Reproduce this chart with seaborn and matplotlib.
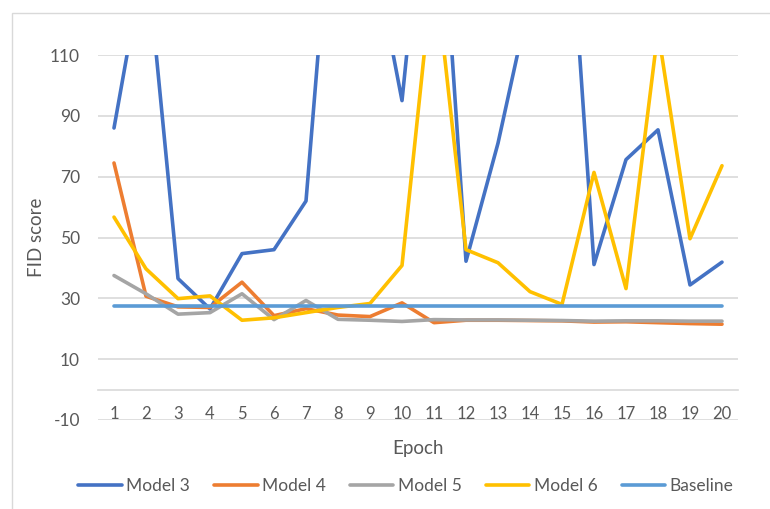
import matplotlib
matplotlib.use("Agg")
import matplotlib.pyplot as plt
from matplotlib.patches import Rectangle
import seaborn as sns
import pandas as pd

# FID score per training epoch
epochs = list(range(1, 21))
model3 = [86, 145, 36.5, 26.5, 44.7, 46, 62, 190, 150, 95,
          198, 42.2, 81, 129, 195, 41.1, 75.6, 85.4, 34.4, 41.9]
model4 = [74.5, 30.7, 27.2, 27.0, 35.3, 24.3, 26.6, 24.5, 24.0, 28.5,
          22.0, 22.8, 22.8, 22.7, 22.6, 22.2, 22.3, 22.0, 21.7, 21.5]
model5 = [37.5, 31.5, 24.8, 25.3, 31.5, 23.0, 29.3, 23.1, 22.8, 22.4,
          23.0, 22.9, 22.9, 22.8, 22.7, 22.5, 22.6, 22.6, 22.5, 22.5]
model6 = [56.7, 39.7, 29.9, 30.8, 22.8, 23.6, 25.3, 27.0, 28.3, 40.8,
          141, 46.0, 41.7, 32.2, 28.0, 71.4, 33.2, 118, 49.6, 73.6]
baseline = [27.5, 27.5, 27.5, 27.5, 27.5, 27.5, 27.5, 27.5, 27.5, 27.5,
            27.5, 27.5, 27.5, 27.5, 27.5, 27.5, 27.5, 27.5, 27.5, 27.5]

series_names = ["Model 3", "Model 4", "Model 5", "Model 6", "Baseline"]
series_values = [model3, model4, model5, model6, baseline]
colors = ["#4472C4", "#ED7D31", "#A5A5A5", "#FFC000", "#5B9BD5"]
yticks = [-10, 10, 30, 50, 70, 90, 110]

rows = []
for name, vals in zip(series_names, series_values):
    for e, v in zip(epochs, vals):
        rows.append({"Epoch": e, "FID score": v, "Series": name})
df = pd.DataFrame(rows)

sns.set_theme(style="white")
plt.rcParams["font.family"] = ["Lato", "DejaVu Sans"]
plt.rcParams["axes.unicode_minus"] = False
text_color = "#595959"
grid_color = "#D9D9D9"

fig = plt.figure(figsize=(7.7, 5.09), dpi=100)
ax = fig.add_axes([98 / 770, 1 - 420 / 509, 640 / 770, 365 / 509])

# light chart-area border
fig.patches.append(Rectangle((12 / 770, -0.1), 1.2, 1 - 13 / 509 + 0.1,
                             transform=fig.transFigure, fill=False,
                             edgecolor=grid_color, linewidth=1.0, zorder=0))

sns.lineplot(data=df, x="Epoch", y="FID score", hue="Series",
             hue_order=series_names, palette=colors, linewidth=2.6,
             ax=ax, legend=True, zorder=3)

ax.set_xlim(0.5, 20.5)
ax.set_ylim(-10, 110)
ax.set_yticks(yticks)
ax.set_xticks(epochs)
ax.set_xticklabels([str(e) for e in epochs])
for y in yticks:
    ax.axhline(y, color=grid_color, linewidth=1.2, zorder=1)

for side in ["left", "right", "top"]:
    ax.spines[side].set_visible(False)
ax.spines["bottom"].set_position(("data", 0))
ax.spines["bottom"].set_color(grid_color)
ax.spines["bottom"].set_linewidth(1.2)

ax.tick_params(axis="x", length=0, pad=12, labelsize=12, colors=text_color)
ax.tick_params(axis="y", length=0, pad=13, labelsize=12.5, colors=text_color)

ax.set_xlabel("Epoch", fontsize=13.5, color=text_color)
ax.xaxis.set_label_coords(0.5, -0.055)
ax.set_ylabel("FID score", fontsize=13.5, color=text_color)
ax.yaxis.set_label_coords(-0.083, 0.5)

handles, labels = ax.get_legend_handles_labels()
leg = fig.legend(handles, labels, loc="center", bbox_to_anchor=(0.527, 1 - 486 / 509),
                 ncol=5, frameon=False, fontsize=12.5, handlelength=2.5,
                 handletextpad=0.25, columnspacing=1.4)
for t in leg.get_texts():
    t.set_color(text_color)
for h in leg.get_lines():
    h.set_linewidth(2.6)
ax.get_legend().remove()

fig.savefig("out.png", dpi=100)
